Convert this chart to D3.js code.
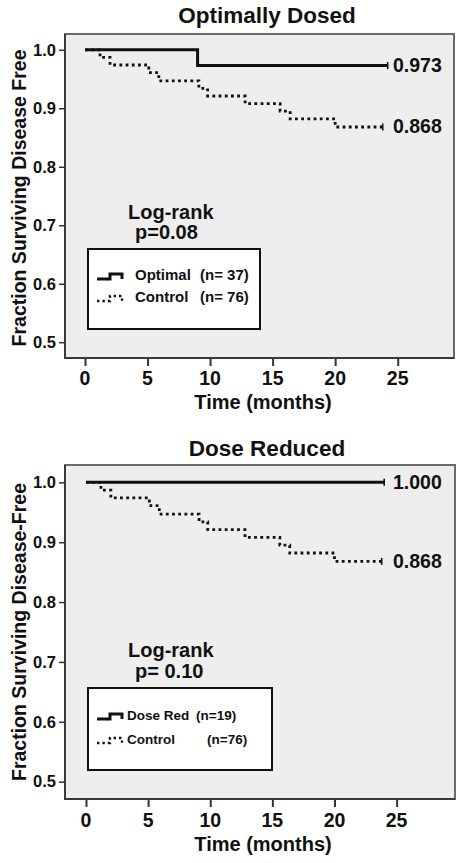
<!DOCTYPE html>
<html><head><meta charset="utf-8">
<script src="https://cdn.jsdelivr.net/npm/d3@7/dist/d3.min.js"></script>
<style>
body{margin:0;background:#fff}
svg{display:block;font-family:"Liberation Sans",Arial,sans-serif;font-weight:bold}
</style>
</head><body>
<svg id="chart" width="463" height="863"></svg>
<script>
// ---- data ----
const xTicks = [0, 5, 10, 15, 20, 25];
const yTicks = [0.5, 0.6, 0.7, 0.8, 0.9, 1.0];
const controlTimes = [0, 1.2, 2.0, 5.1, 5.9, 9.1, 9.8, 12.8, 15.6, 16.4, 20.0];
const controlSurv  = [1.0, 0.987, 0.974, 0.961, 0.947, 0.934, 0.921, 0.908, 0.895, 0.882, 0.868];
const controlEnd = 23.8;
const optimalTimes = [0, 9.0];
const optimalSurv  = [1.0, 0.973];
const optimalEnd = 24.2;
const doseRedTimes = [0];
const doseRedSurv  = [1.0];
const doseRedEnd = 24.0;
const titles = ["Optimally Dosed", "Dose Reduced"];
const yLabels = ["Fraction Surviving Disease Free", "Fraction Surviving Disease-Free"];
const endLabels = [["0.973", "0.868"], ["1.000", "0.868"]];
const pValues = ["p=0.08", "p= 0.10"];
const legendNames = [["Optimal", "Control"], ["Dose Red", "Control"]];
const legendNs = [["(n= 37)", "(n= 76)"], ["(n=19)", "(n=76)"]];

// ---- layout ----
const panels = [
  {x0:65, x1:454, y0:34, y1:358, xd:[-1.6, 29.5], yd:[0.473, 1.027],
   titleY:23, tickLabY:385, xLabY:409, yLabC:198,
   treat:{t:optimalTimes, s:optimalSurv, end:optimalEnd},
   lr:{x:128, y1:219, px:135, y2:239},
   leg:{x:88, y:249, w:172, h:80, r1:280, r2:302, tx:135, nx:[200,200], fs:15}},
  {x0:65, x1:455, y0:465, y1:799, xd:[-1.69, 29.7], yd:[0.471, 1.029],
   titleY:456, tickLabY:827, xLabY:851, yLabC:632,
   treat:{t:doseRedTimes, s:doseRedSurv, end:doseRedEnd},
   lr:{x:128, y1:657, px:135, y2:678},
   leg:{x:88, y:688, w:184, h:82, r1:720, r2:744, tx:127, nx:[196,207], fs:13.5}}
];

const svg = d3.select("#chart");

function stepData(times, surv, end){
  const pts = times.map((t,i)=>({t, s:surv[i]}));
  pts.push({t:end, s:surv[surv.length-1]});
  return pts;
}

panels.forEach((p, pi) => {
  const x = d3.scaleLinear().domain(p.xd).range([p.x0, p.x1]);
  const y = d3.scaleLinear().domain(p.yd).range([p.y1, p.y0]);
  const g = svg.append("g");

  // background + frame
  g.append("rect").attr("x", p.x0).attr("y", p.y0)
    .attr("width", p.x1 - p.x0).attr("height", p.y1 - p.y0)
    .attr("fill", "#eeeeee").attr("stroke", "#6a6a6a").attr("stroke-width", 2);
  g.append("path").attr("d", `M${p.x0},${p.y0}V${p.y1}H${p.x1}`)
    .attr("fill","none").attr("stroke","#3a3a3a").attr("stroke-width",2);

  // title
  g.append("text").attr("x", 267).attr("y", p.titleY).attr("text-anchor","middle")
    .attr("font-size", 22.5).attr("fill","#111").text(titles[pi]);

  // axes
  const ya = g.append("g").attr("transform", `translate(${p.x0 - 1},0)`)
    .call(d3.axisLeft(y).tickValues(yTicks).tickFormat(d3.format(".1f")).tickSize(5).tickPadding(3));
  ya.select(".domain").remove();
  ya.selectAll("line").attr("stroke","#333").attr("stroke-width",1.5);
  ya.selectAll("text").attr("font-size",16.5).attr("fill","#111")
    .attr("font-family",'"Liberation Sans",Arial,sans-serif').attr("font-weight","bold");

  const xa = g.append("g").attr("transform", `translate(0,${p.y1 + 1})`)
    .call(d3.axisBottom(x).tickValues(xTicks).tickSize(7).tickPadding(0));
  xa.select(".domain").remove();
  xa.selectAll("line").attr("stroke","#333").attr("stroke-width",2);
  xa.selectAll("text").remove();
  g.selectAll(".xtl").data(xTicks).join("text").attr("class","xtl")
    .attr("x", d => x(d)).attr("y", p.tickLabY).attr("text-anchor","middle")
    .attr("font-size",19.5).attr("fill","#111").text(d => d);

  // axis labels
  g.append("text").attr("x", 263).attr("y", p.xLabY).attr("text-anchor","middle")
    .attr("font-size",20).attr("fill","#111").text("Time (months)");
  g.append("text").attr("transform", `translate(26,${p.yLabC}) rotate(-90)`)
    .attr("text-anchor","middle").attr("font-size",19.5).attr("fill","#111").text(yLabels[pi]);

  const line = d3.line().x(d => x(d.t)).y(d => y(d.s)).curve(d3.curveStepAfter);

  // control (dotted)
  const cData = stepData(controlTimes, controlSurv, controlEnd);
  g.append("path").attr("d", line(cData)).attr("fill","none")
    .attr("stroke","#111").attr("stroke-width",2.8).attr("stroke-dasharray","2.8,3.4");
  // treatment (solid)
  const tData = stepData(p.treat.t, p.treat.s, p.treat.end);
  g.append("path").attr("d", line(tData)).attr("fill","none")
    .attr("stroke","#111").attr("stroke-width",3);

  // censor marks + end labels
  [[tData, endLabels[pi][0]], [cData, endLabels[pi][1]]].forEach(([d, lab]) => {
    const e = d[d.length-1];
    g.append("line").attr("x1", x(e.t)).attr("x2", x(e.t))
      .attr("y1", y(e.s) - 3.5).attr("y2", y(e.s) + 3.5)
      .attr("stroke","#111").attr("stroke-width",1.6);
    g.append("text").attr("x", 393).attr("y", y(e.s)).attr("dy","0.33em")
      .attr("font-size",19.5).attr("fill","#111").text(lab);
  });

  // log-rank
  g.append("text").attr("x", p.lr.x).attr("y", p.lr.y1).attr("font-size",20).attr("fill","#111").text("Log-rank");
  g.append("text").attr("x", p.lr.px).attr("y", p.lr.y2).attr("font-size",20).attr("fill","#111").text(pValues[pi]);

  // legend
  const L = p.leg;
  g.append("rect").attr("x", L.x).attr("y", L.y).attr("width", L.w).attr("height", L.h)
    .attr("fill","#fff").attr("stroke","#111").attr("stroke-width",2);
  [L.r1, L.r2].forEach((ry, i) => {
    const sy = ry - 3;
    g.append("path").attr("d", `M97,${sy+2}H110V${sy-3}H122V${sy+2}`)
      .attr("fill","none").attr("stroke","#111")
      .attr("stroke-width", i === 0 ? 3 : 2.4)
      .attr("stroke-dasharray", i === 0 ? null : "2.4,3");
    g.append("text").attr("x", L.tx).attr("y", ry).attr("font-size",L.fs).attr("fill","#111").text(legendNames[pi][i]);
    g.append("text").attr("x", L.nx[i]).attr("y", ry).attr("font-size",L.fs).attr("fill","#111").text(legendNs[pi][i]);
  });
});
</script>
</body></html>
